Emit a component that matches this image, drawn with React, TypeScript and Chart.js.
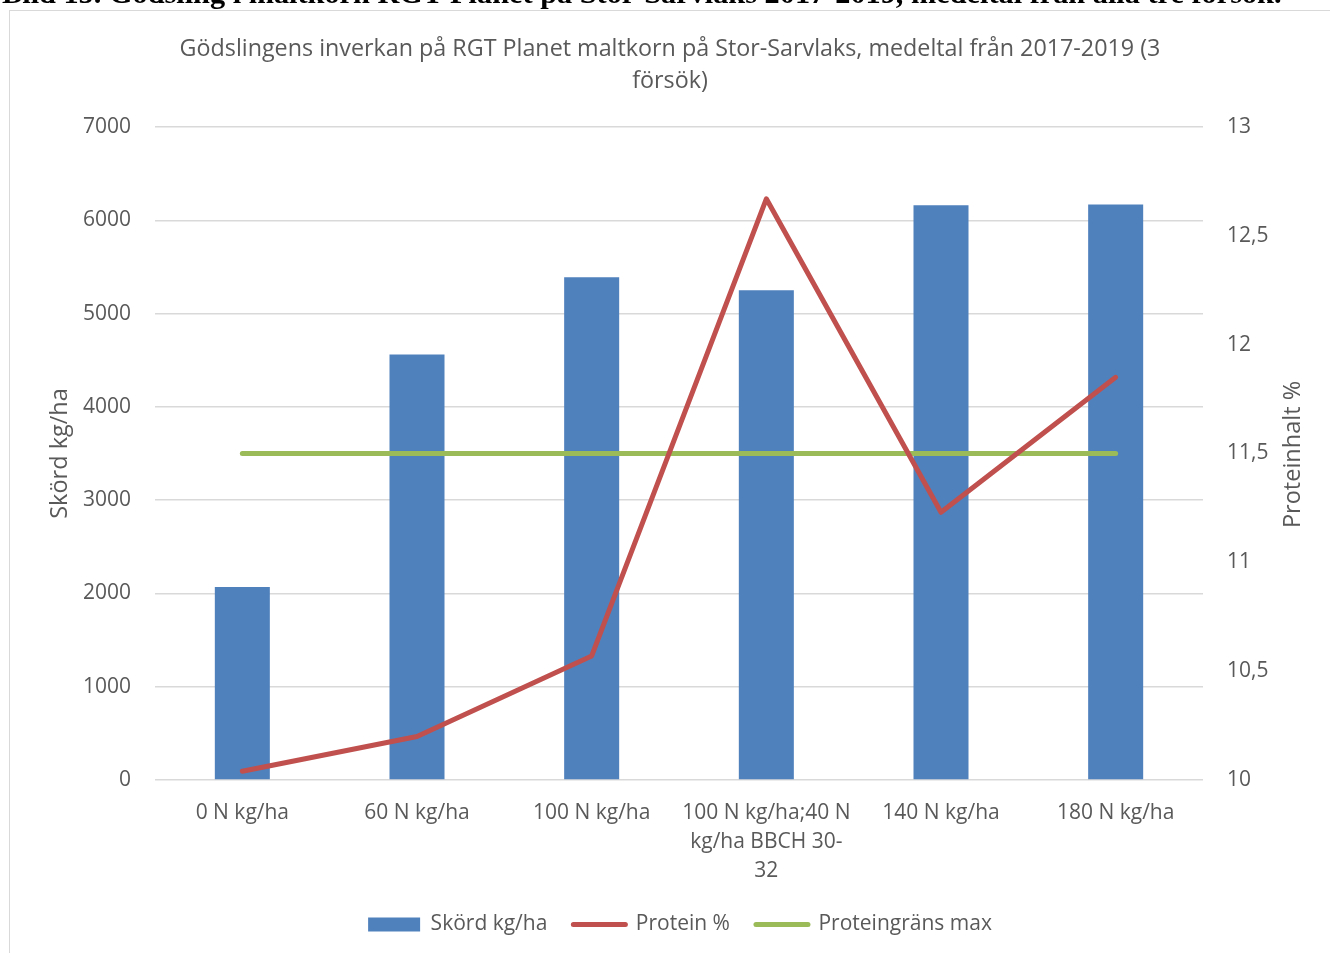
import React, { useEffect, useRef } from 'react';
import { Chart, registerables } from 'chart.js';

Chart.register(...registerables);

// ---- data ----
const captionText =
  'Bild 15. Gödsling i maltkorn RGT Planet på Stor-Sarvlaks 2017-2019, medeltal från alla tre försök.';
const titleLines = [
  'Gödslingens inverkan på RGT Planet maltkorn på Stor-Sarvlaks, medeltal från 2017-2019 (3',
  'försök)',
];
const categories: string[][] = [
  ['0 N kg/ha'],
  ['60 N kg/ha'],
  ['100 N kg/ha'],
  ['100 N kg/ha;40 N', 'kg/ha BBCH 30-', '32'],
  ['140 N kg/ha'],
  ['180 N kg/ha'],
];
const yieldLabel = 'Skörd kg/ha';
const yieldValues = [2070, 4560, 5390, 5250, 6160, 6170];
const proteinLabel = 'Protein %';
const proteinValues = [10.04, 10.2, 10.57, 12.67, 11.23, 11.85];
const limitLabel = 'Proteingräns max';
const limitValues = [11.5, 11.5, 11.5, 11.5, 11.5, 11.5];
const leftAxisTitle = 'Skörd kg/ha';
const rightAxisTitle = 'Proteinhalt %';
const leftMin = 0;
const leftMax = 7000;
const leftStep = 1000;
const rightMin = 10;
const rightMax = 13;
const rightStep = 0.5;

// ---- styles ----
const BLUE = '#4f81bd';
const RED = '#c0504d';
const GREEN = '#9bbb59';
const TEXT = '#595959';
const GRID = '#d9d9d9';
const FONT = "'Open Sans', 'DejaVu Sans', sans-serif";
const LINE_W = 5;

const CW = 1320;
const CH = 941;

export default function App() {
  const ref = useRef<HTMLCanvasElement | null>(null);

  useEffect(() => {
    document.body.style.overflow = 'hidden';
    const rightTitlePlugin = {
      id: 'rightTitle',
      afterLayout(chart: any) {
        if (chart.legend) chart.legend.left += 20;
      },
      afterDraw(chart: any) {
        const { ctx, chartArea } = chart;
        ctx.save();
        ctx.font = `23.5px ${FONT}`;
        ctx.fillStyle = TEXT;
        ctx.textAlign = 'center';
        ctx.textBaseline = 'middle';
        ctx.translate(1283, (chartArea.top + chartArea.bottom) / 2 + 1);
        ctx.rotate(-Math.PI / 2);
        ctx.fillText(rightAxisTitle, 0, 0);
        ctx.restore();
      },
    };

    const chart = new Chart(ref.current as HTMLCanvasElement, {
      type: 'bar',
      data: {
        labels: categories as any,
        datasets: [
          {
            type: 'bar',
            label: yieldLabel,
            data: yieldValues,
            backgroundColor: BLUE,
            borderWidth: 0,
            yAxisID: 'y',
            order: 2,
            categoryPercentage: 1,
            barPercentage: 0.315,
          } as any,
          {
            type: 'line',
            label: proteinLabel,
            data: proteinValues,
            borderColor: RED,
            backgroundColor: RED,
            borderWidth: LINE_W,
            borderCapStyle: 'round',
            borderJoinStyle: 'round',
            pointRadius: 0,
            pointHoverRadius: 0,
            tension: 0,
            yAxisID: 'y1',
            order: 0,
          } as any,
          {
            type: 'line',
            label: limitLabel,
            data: limitValues,
            borderColor: GREEN,
            backgroundColor: GREEN,
            borderWidth: LINE_W,
            borderCapStyle: 'round',
            borderJoinStyle: 'round',
            pointRadius: 0,
            pointHoverRadius: 0,
            tension: 0,
            yAxisID: 'y1',
            order: 1,
          } as any,
        ],
      },
      options: {
        animation: false,
        responsive: false,
        maintainAspectRatio: false,
        layout: { padding: { left: 0, right: 0, top: 0, bottom: 8 } },
        plugins: {
          tooltip: { enabled: false },
          title: {
            display: true,
            text: titleLines,
            color: TEXT,
            font: { family: FONT, size: 23.3, weight: 'normal', lineHeight: 32 / 23.3 },
            padding: { top: 21, bottom: 30 },
          },
          legend: {
            position: 'bottom',
            labels: {
              color: TEXT,
              font: { family: FONT, size: 21 },
              usePointStyle: true,
              pointStyleWidth: 52,
              boxHeight: 14,
              padding: 26,
              generateLabels: () => [
                {
                  text: yieldLabel,
                  fillStyle: BLUE,
                  strokeStyle: BLUE,
                  lineWidth: 0,
                  pointStyle: 'rect',
                  fontColor: TEXT,
                  hidden: false,
                  datasetIndex: 0,
                } as any,
                {
                  text: proteinLabel,
                  fillStyle: RED,
                  strokeStyle: RED,
                  lineWidth: LINE_W,
                  lineCap: 'round',
                  pointStyle: 'line',
                  fontColor: TEXT,
                  hidden: false,
                  datasetIndex: 1,
                } as any,
                {
                  text: limitLabel,
                  fillStyle: GREEN,
                  strokeStyle: GREEN,
                  lineWidth: LINE_W,
                  lineCap: 'round',
                  pointStyle: 'line',
                  fontColor: TEXT,
                  hidden: false,
                  datasetIndex: 2,
                } as any,
              ],
            },
          },
        },
        scales: {
          x: {
            grid: { display: false },
            border: { display: false },
            ticks: {
              color: TEXT,
              font: { family: FONT, size: 21, lineHeight: 29 / 21 },
              padding: 11,
              maxRotation: 0,
              autoSkip: false,
            },
            afterFit: (s: any) => {
              s.height = 108;
            },
          },
          y: {
            position: 'left',
            min: leftMin,
            max: leftMax,
            grid: { color: GRID, lineWidth: 1.5, drawTicks: false },
            border: { display: false },
            ticks: {
              stepSize: leftStep,
              color: TEXT,
              font: { family: FONT, size: 21 },
              padding: 24,
              callback: (v: any) => String(v),
            },
            title: {
              display: true,
              text: leftAxisTitle,
              color: TEXT,
              font: { family: FONT, size: 23.5 },
              padding: { top: 36, bottom: 0 },
            },
            afterFit: (s: any) => {
              s.width = 145;
            },
          },
          y1: {
            position: 'right',
            min: rightMin,
            max: rightMax,
            grid: { display: false, drawTicks: false },
            border: { display: false },
            ticks: {
              stepSize: rightStep,
              color: TEXT,
              font: { family: FONT, size: 21 },
              padding: 24,
              callback: (v: any) => String(v).replace('.', ','),
            },
            afterFit: (s: any) => {
              s.width = 127;
            },
          },
        },
      } as any,
      plugins: [rightTitlePlugin],
    });
    return () => chart.destroy();
  }, []);

  return (
    <div>
      <div
        style={{
          position: 'fixed',
          left: 2,
          top: -24,
          whiteSpace: 'nowrap',
          fontFamily: "'Liberation Serif', 'Times New Roman', serif",
          fontWeight: 'bold',
          fontSize: 30.3,
          color: '#000',
        }}
      >
        {captionText}
      </div>
      <div
        style={{
          position: 'fixed',
          left: 9,
          top: 10,
          width: 1340,
          height: 960,
          borderLeft: `1px solid ${GRID}`,
          borderTop: `1px solid ${GRID}`,
          background: '#fff',
        }}
      />
      <div style={{ position: 'fixed', left: 10, top: 12, width: CW, height: CH }}>
        <canvas ref={ref} width={CW} height={CH} style={{ width: CW, height: CH, display: 'block' }} />
      </div>
    </div>
  );
}
